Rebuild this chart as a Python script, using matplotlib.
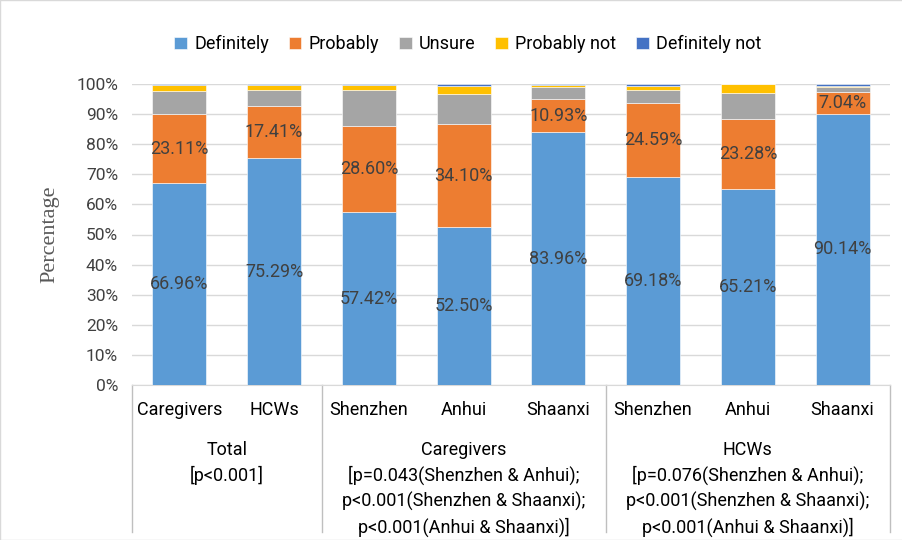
import numpy as np
import matplotlib
matplotlib.use("Agg")
import matplotlib.pyplot as plt
from matplotlib.lines import Line2D
from matplotlib.patches import Rectangle

plt.rcParams['font.family'] = ['Roboto', 'DejaVu Sans']

# categories and groups
categories = ["Caregivers", "HCWs", "Shenzhen", "Anhui", "Shaanxi", "Shenzhen", "Anhui", "Shaanxi"]
groups = ["Total\n[p<0.001]",
          "Caregivers\n[p=0.043(Shenzhen & Anhui);\np<0.001(Shenzhen & Shaanxi);\np<0.001(Anhui & Shaanxi)]",
          "HCWs\n[p=0.076(Shenzhen & Anhui);\np<0.001(Shenzhen & Shaanxi);\np<0.001(Anhui & Shaanxi)]"]
group_sizes = [2, 3, 3]

series_names = ["Definitely", "Probably", "Unsure", "Probably not", "Definitely not"]
definitely = [66.96, 75.29, 57.42, 52.50, 83.96, 69.18, 65.21, 90.14]
probably = [23.11, 17.41, 28.60, 34.10, 10.93, 24.59, 23.28, 7.04]
unsure = [7.6, 5.3, 11.9, 10.0, 4.0, 4.1, 8.4, 1.8]
probably_not = [1.9, 1.7, 1.9, 2.9, 0.8, 1.4, 3.1, 0.3]
definitely_not = [0.43, 0.3, 0.18, 0.5, 0.31, 0.73, 0.01, 0.72]

colors = ["#5B9BD5", "#ED7D31", "#A5A5A5", "#FFC000", "#4472C4"]

fig = plt.figure(figsize=(9.03, 5.4), dpi=100)
ax = fig.add_axes([132 / 903, 1 - 385 / 540, (890 - 132) / 903, 301 / 540])

x = np.arange(len(categories))
data = [definitely, probably, unsure, probably_not, definitely_not]
bottom = np.zeros(len(categories))
for vals, name, c in zip(data, series_names, colors):
    vals = np.array(vals)
    ax.bar(x, vals, 0.57, bottom=bottom, color=c, label=name,
           edgecolor="white", linewidth=0.4, zorder=3)
    bottom += vals

# value labels for the two main series
for i in range(len(categories)):
    ax.text(x[i], definitely[i] / 2, f"{definitely[i]:.2f}%", ha="center", va="center",
            fontsize=13, color="#404040", zorder=4)
    ax.text(x[i], definitely[i] + probably[i] / 2, f"{probably[i]:.2f}%", ha="center", va="center",
            fontsize=13, color="#404040", zorder=4)

ax.set_xlim(-0.5, len(categories) - 0.5)
ax.set_ylim(0, 100)
ax.set_yticks(np.arange(0, 101, 10))
ax.set_yticklabels([f"{v}%" for v in range(0, 101, 10)], fontsize=12.5, color="#404040")
ax.set_xticks([])
ax.tick_params(axis="y", length=0, pad=10)
ax.yaxis.grid(True, color="#D9D9D9", linewidth=1, zorder=0)
for s in ["top", "right", "left"]:
    ax.spines[s].set_visible(False)
ax.spines["bottom"].set_color("#D9D9D9")

ax.set_ylabel("Percentage", fontsize=16, color="#595959", family="Liberation Serif", labelpad=12)

# category labels
trans = ax.get_xaxis_transform()
for i, cat in enumerate(categories):
    ax.text(x[i], -0.083, cat, transform=trans, ha="center", va="center",
            fontsize=13, color="black", clip_on=False)

# group separators and labels
edges = np.concatenate([[0], np.cumsum(group_sizes)]) - 0.5
for e in edges:
    ax.add_line(Line2D([e, e], [0, -0.49], transform=trans, color="#BFBFBF",
                       linewidth=1, clip_on=False))
for g, (lo, hi) in enumerate(zip(edges[:-1], edges[1:])):
    ax.text((lo + hi) / 2, -0.185, groups[g], transform=trans, ha="center", va="top",
            fontsize=13, color="black", linespacing=1.45, clip_on=False)

leg = fig.legend(loc="upper center", bbox_to_anchor=(0.518, 0.965), ncol=5, frameon=False,
                 fontsize=13, handlelength=0.7, handleheight=0.7, columnspacing=1.1,
                 handletextpad=0.4)
for t in leg.get_texts():
    t.set_color("black")

fig.patches.append(Rectangle((0, 0), 1, 1, transform=fig.transFigure, fill=False,
                             edgecolor="#D9D9D9", linewidth=1))

fig.savefig("out.png", dpi=100)
